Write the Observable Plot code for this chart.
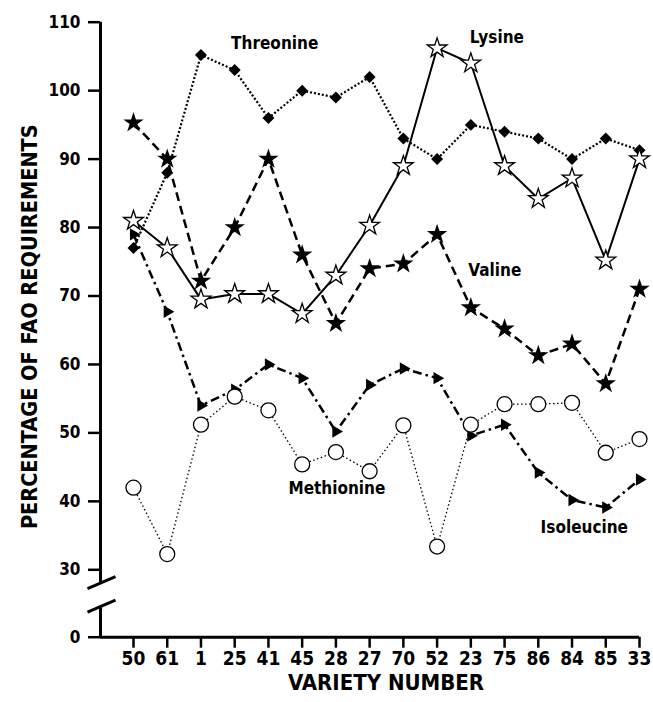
<!DOCTYPE html>
<html><head><meta charset="utf-8">
<script src="https://cdn.jsdelivr.net/npm/d3@7"></script>
<script src="https://cdn.jsdelivr.net/npm/@observablehq/plot@0.6"></script>
<style>body{margin:0;background:#fff}</style>
</head><body><div id="chart"></div>
<script>
const varieties = ["50","61","1","25","41","45","28","27","70","52","23","75","86","84","85","33"];
const threonine  = [77, 88, 105.2, 103, 96, 100, 99, 102, 93, 90, 95, 94, 93, 90, 93, 91.3];
const lysine     = [81, 77, 69.5, 70.3, 70.3, 67.4, 73, 80.3, 89, 106.2, 104, 89, 84.2, 87.2, 75.2, 90];
const valine     = [95.3, 90, 72.2, 80, 90, 76, 66, 74, 74.7, 79, 68.3, 65.2, 61.3, 63, 57.2, 71];
const isoleucine = [79, 67.7, 54, 56.3, 60, 58, 50.2, 57, 59.4, 58, 49.6, 51.2, 44.2, 40.2, 39.1, 43.2];
const methionine = [42, 32.3, 51.2, 55.3, 53.3, 45.4, 47.2, 44.4, 51.1, 33.4, 51.2, 54.2, 54.2, 54.4, 47.1, 49.1];
const yTicks = [0, 30, 40, 50, 60, 70, 80, 90, 100, 110];

const labelNames = ["Threonine", "Lysine", "Valine", "Methionine", "Isoleucine"];
const labelAt    = ["25", "23", "23", "28", "86"];
const labelValue = [106.9, 107.8, 73.7, 41.9, 36.2];
const labelShift = [40, 26, 24, 1, 46];

const seriesData = {Threonine: threonine, Lysine: lysine, Valine: valine, Isoleucine: isoleucine, Methionine: methionine};
const rows = s => varieties.map((v, i) => ({series: s, variety: v, value: seriesData[s][i]}));
const labels = labelNames.map((n, i) => ({name: n, variety: labelAt[i], value: labelValue[i], dx: labelShift[i]}));

const font = "'DejaVu Sans Condensed', 'Liberation Sans Narrow', 'DejaVu Sans', sans-serif";
const slash = {draw(ctx) { ctx.moveTo(-14, 6); ctx.lineTo(14, -6); }};

const chart = Plot.plot({
  width: 653, height: 702,
  marginLeft: 100, marginRight: 14, marginTop: 21.7, marginBottom: 65.3,
  x: {type: "point", domain: varieties, range: [133, 639], padding: 0, round: false, axis: null},
  y: {type: "linear", domain: [0, 30, 110], range: [636.7, 569.3, 21.7], axis: null},
  style: {fontFamily: font, fontWeight: "bold", fontStretch: "condensed", fontSize: "17px", color: "black", background: "white", overflow: "visible"},
  marks: [
    Plot.axisY(yTicks, {anchor: "left", tickSize: 12, tickPadding: 8, strokeWidth: 2.5, fontSize: 17, fontWeight: "bold", label: null}),
    Plot.axisX({anchor: "bottom", tickSize: 11, tickPadding: 3, strokeWidth: 2.5, fontSize: 19, fontWeight: "bold", label: null}),
    Plot.ruleY([0], {strokeWidth: 3}),
    Plot.ruleX(["50"], {x: d => d, dx: -33, y1: 24.3, y2: 110, strokeWidth: 3}),
    Plot.ruleX(["50"], {x: d => d, dx: -33, y1: 0, y2: 13.8, strokeWidth: 3}),
    Plot.dot([24.3, 13.8], {x: () => "50", y: d => d, dx: -32, symbol: slash, fill: "none", stroke: "black", strokeWidth: 3}),
    Plot.text(["VARIETY NUMBER"], {frameAnchor: "bottom", dy: 53, dx: 16, fontSize: 22, fontWeight: "bold"}),
    Plot.text(["PERCENTAGE OF FAO REQUIREMENTS"], {frameAnchor: "left", textAnchor: "middle", dx: -70, dy: -3, rotate: -90, fontSize: 21.5, fontWeight: "bold"}),

    Plot.line(rows("Threonine"), {x: "variety", y: "value", stroke: "black", strokeWidth: 2.2, strokeDasharray: "2,2", strokeLinecap: "butt"}),
    Plot.line(rows("Lysine"), {x: "variety", y: "value", stroke: "black", strokeWidth: 2}),
    Plot.line(rows("Valine"), {x: "variety", y: "value", stroke: "black", strokeWidth: 2.5, strokeDasharray: "9,5", strokeLinecap: "butt"}),
    Plot.line(rows("Isoleucine"), {x: "variety", y: "value", stroke: "black", strokeWidth: 2.5, strokeDasharray: "9,4,2.5,4", strokeLinecap: "butt"}),
    Plot.line(rows("Methionine"), {x: "variety", y: "value", stroke: "black", strokeWidth: 1.3, strokeDasharray: "1.5,2.5", strokeLinecap: "butt"}),

    Plot.dot(rows("Threonine"), {x: "variety", y: "value", symbol: "diamond2", r: 5.4, fill: "black"}),
    Plot.dot(rows("Lysine"), {x: "variety", y: "value", symbol: "star", r: 6.2, fill: "white", stroke: "black", strokeWidth: 1.3}),
    Plot.dot(rows("Valine"), {x: "variety", y: "value", symbol: "star", r: 6.4, fill: "black"}),
    Plot.dot(rows("Isoleucine"), {x: "variety", y: "value", symbol: "triangle", r: 4.6, rotate: 90, fill: "black"}),
    Plot.dot(rows("Methionine"), {x: "variety", y: "value", symbol: "circle", r: 7.5, fill: "white", stroke: "black", strokeWidth: 1.3}),

    ...labels.map(l => Plot.text([l], {x: "variety", y: "value", text: "name", dx: l.dx, fontSize: 17, fontWeight: "bold"}))
  ]
});
document.getElementById("chart").appendChild(chart);
</script>
</body></html>
